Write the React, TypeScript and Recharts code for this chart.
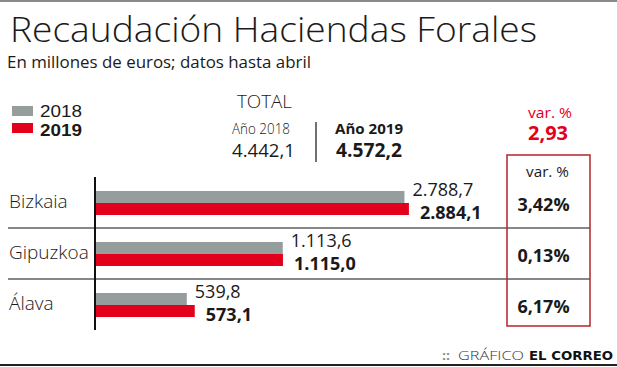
import React from 'react';
import { BarChart, Bar, XAxis, YAxis, LabelList } from 'recharts';

// ---- data ----
const CATEGORIES = ['Bizkaia', 'Gipuzkoa', 'Álava'];
const V2018 = [2788.7, 1113.6, 539.8];
const V2019 = [2884.1, 1115.0, 573.1];
const VAR_PCT = [3.42, 0.13, 6.17];
const YEARS = ['2018', '2019'];
const TOTALS = [4442.1, 4572.2];
const TOTAL_VAR = 2.93;

const data = CATEGORIES.map((name, i) => ({ name, v2018: V2018[i], v2019: V2019[i], varPct: VAR_PCT[i] }));

const W = 617;
const H = 367;
const MARGIN = { top: 177, right: 0, bottom: 37, left: 0 };
const LEFT_AXIS_W = 95;
const RIGHT_AXIS_W = 111;
const BAND_HALF = (H - MARGIN.top - MARGIN.bottom) / CATEGORIES.length / 2;

const GRAY = '#959e9d';
const RED = '#e2001a';
const INK = '#1a1a1a';
const FONT = '"Open Sans", "Noto Sans", sans-serif';
const LEGEND_FONT = '"Liberation Sans", Arial, sans-serif';

function fmt(v: number, d = 1): string {
  const [i, f] = v.toFixed(d).split('.');
  return i.replace(/\B(?=(\d{3})+(?!\d))/g, '.') + (f ? ',' + f : '');
}

const CatTick = (props: any) => {
  const { y, payload, index } = props;
  return (
    <g>
      {index > 0 && (
        <line x1={8} x2={590} y1={y - BAND_HALF} y2={y - BAND_HALF} stroke="#111" strokeWidth={1.2} />
      )}
      <text x={9} y={y + 5} fontSize={19} fontFamily={FONT} fontWeight={300} fill={INK}>
        {payload.value}
      </text>
    </g>
  );
};

const VarTick = (props: any) => {
  const { y, index } = props;
  return (
    <text x={543.5} y={y + 8} fontSize={18} fontFamily={FONT} fontWeight={700} fill={INK} textAnchor="middle">
      {fmt(VAR_PCT[index], 2) + '%'}
    </text>
  );
};

const GrayLabel = (props: any) => {
  const { x, y, width, value } = props;
  return (
    <text x={x + width + 8} y={y + 5} fontSize={18} fontFamily={FONT} fontWeight={400} fill={INK}>
      {fmt(value)}
    </text>
  );
};

const RedLabel = (props: any) => {
  const { x, y, width, value } = props;
  return (
    <text x={x + width + 11} y={y + 16} fontSize={18} fontFamily={FONT} fontWeight={700} fill={INK}>
      {fmt(value)}
    </text>
  );
};

export default function App() {
  return (
    <div style={{ position: 'fixed', left: 0, top: 0, width: W, height: H, background: '#fff' }}>
      <BarChart
        layout="vertical"
        width={W}
        height={H}
        data={data}
        margin={MARGIN}
        barGap={0}
        barSize={12}
      >
        <XAxis type="number" scale="log" domain={[270, 6000]} allowDataOverflow hide />
        <YAxis
          type="category"
          dataKey="name"
          width={LEFT_AXIS_W}
          interval={0}
          tickLine={false}
          axisLine={{ stroke: '#111', strokeWidth: 2 }}
          tick={<CatTick />}
        />
        <YAxis
          yAxisId="right"
          orientation="right"
          type="category"
          dataKey="name"
          width={RIGHT_AXIS_W}
          interval={0}
          tickLine={false}
          axisLine={false}
          tick={<VarTick />}
        />
        <Bar dataKey="v2018" fill={GRAY} isAnimationActive={false}>
          <LabelList dataKey="v2018" content={<GrayLabel />} />
        </Bar>
        <Bar dataKey="v2019" fill={RED} isAnimationActive={false}>
          <LabelList dataKey="v2019" content={<RedLabel />} />
        </Bar>
      </BarChart>
      <svg
        width={W}
        height={H}
        style={{ position: 'absolute', left: 0, top: 0, pointerEvents: 'none' }}
        fontFamily={FONT}
      >
        <line x1={0} x2={W} y1={1} y2={1} stroke="#8a8a8a" strokeWidth={2} />
        <text x={10} y={42} fontSize={35} fontWeight={300} fill={INK} textLength={527} lengthAdjust="spacingAndGlyphs">
          Recaudación Haciendas Forales
        </text>
        <text x={7} y={68} fontSize={16.5} fontWeight={400} fill={INK} textLength={304} lengthAdjust="spacingAndGlyphs">
          En millones de euros; datos hasta abril
        </text>
        {/* legend */}
        <rect x={12} y={106} width={21} height={10} fill={GRAY} />
        <rect x={12} y={123} width={21} height={10} fill={RED} />
        <text x={40} y={116.5} fontSize={17} fontFamily={LEGEND_FONT} fontWeight={400} fill={INK} textLength={42} lengthAdjust="spacingAndGlyphs">
          {YEARS[0]}
        </text>
        <text x={40} y={136} fontSize={17} fontFamily={LEGEND_FONT} fontWeight={700} fill={INK} textLength={42} lengthAdjust="spacingAndGlyphs">
          {YEARS[1]}
        </text>
        {/* totals */}
        <text x={237} y={108} fontSize={18} fontWeight={300} fill={INK} textLength={55} lengthAdjust="spacingAndGlyphs">
          TOTAL
        </text>
        <text x={232} y={134} fontSize={14} fontWeight={300} fill={INK} textLength={58} lengthAdjust="spacingAndGlyphs">
          {'Año ' + YEARS[0]}
        </text>
        <text x={232} y={157} fontSize={19} fontWeight={400} fill={INK} textLength={63} lengthAdjust="spacingAndGlyphs">
          {fmt(TOTALS[0])}
        </text>
        <line x1={316} x2={316} y1={122} y2={162} stroke="#111" strokeWidth={1.2} />
        <text x={335} y={134} fontSize={14} fontWeight={700} fill={INK} textLength={68} lengthAdjust="spacingAndGlyphs">
          {'Año ' + YEARS[1]}
        </text>
        <text x={336} y={157} fontSize={19} fontWeight={700} fill={INK} textLength={66} lengthAdjust="spacingAndGlyphs">
          {fmt(TOTALS[1])}
        </text>
        <text x={528} y={118} fontSize={15} fontWeight={400} fill={RED} textLength={44} lengthAdjust="spacingAndGlyphs">
          var. %
        </text>
        <text x={528} y={140} fontSize={19} fontWeight={700} fill={RED} textLength={40} lengthAdjust="spacingAndGlyphs">
          {fmt(TOTAL_VAR, 2)}
        </text>
        {/* var box */}
        <rect x={507} y={155} width={83} height={171} fill="none" stroke="#b5242c" strokeWidth={1.5} />
        <text x={526} y={177} fontSize={15} fontWeight={400} fill={INK} textLength={43} lengthAdjust="spacingAndGlyphs">
          var. %
        </text>
        {/* footer */}
        <text x={442} y={360} fontSize={12} fontWeight={700} fill="#888" textLength={8} lengthAdjust="spacingAndGlyphs">
          ::
        </text>
        <text x={458} y={360} fontSize={13} fontWeight={300} fill="#333" textLength={66} lengthAdjust="spacingAndGlyphs">
          GRÁFICO
        </text>
        <text x={529} y={360} fontSize={13} fontWeight={800} fill="#111" fontFamily='"DejaVu Sans", sans-serif' textLength={84} lengthAdjust="spacingAndGlyphs">
          EL CORREO
        </text>
        <line x1={0} x2={W} y1={365} y2={365} stroke="#222" strokeWidth={2} />
      </svg>
    </div>
  );
}
